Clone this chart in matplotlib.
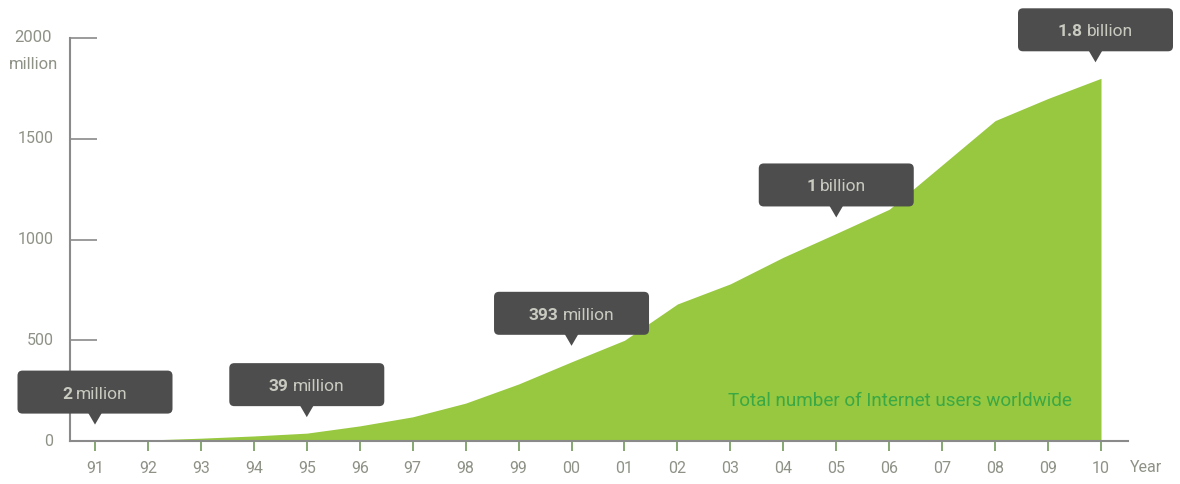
import matplotlib
matplotlib.use("Agg")
import matplotlib.pyplot as plt
from matplotlib import font_manager
from matplotlib.patches import FancyBboxPatch, Polygon
from matplotlib.transforms import ScaledTranslation
from matplotlib.offsetbox import TextArea, HPacker, AnnotationBbox

# ---------------- data ----------------
years = ["91", "92", "93", "94", "95", "96", "97", "98", "99", "00",
         "01", "02", "03", "04", "05", "06", "07", "08", "09", "10"]
users = [2, 5, 14, 25, 39, 75, 120, 188, 283, 393,
         500, 680, 780, 912, 1030, 1150, 1370, 1590, 1700, 1800]
y_ticks = [0, 500, 1000, 1500, 2000]
y_tick_labels = ["0", "500", "1000", "1500", "2000\nmillion"]
callout_years = ["91", "95", "00", "05", "10"]
callout_numbers = ["2", "39", "393", "1", "1.8"]
callout_units = ["million", "million", "million", "billion", "billion"]
caption = "Total number of Internet users worldwide"
x_axis_label = "Year"

# ---------------- fonts ----------------
avail = {f.name for f in font_manager.fontManager.ttflist}
fam = "Roboto" if "Roboto" in avail else "DejaVu Sans"
plt.rcParams["font.family"] = [fam, "DejaVu Sans"]

GREEN = "#97c83f"
GREY = "#8e9286"
AXIS = "#8a8a8a"
BOX = "#4d4d4d"
BOXTXT = "#c9cac0"

W, H = 1180, 484
fig = plt.figure(figsize=(W / 100, H / 100), dpi=100)
ax = fig.add_axes([70 / W, (H - 441) / H, (1128 - 70) / W, (441 - 38) / H])
px_per_idx = (1101 - 95) / 19
xl = (70 - 95) / px_per_idx
xr = 19 + (1128 - 1101) / px_per_idx
ax.set_xlim(xl, xr)
ax.set_ylim(0, 2000)

xs = list(range(len(years)))
ax.fill_between(xs, 0, users, color=GREEN, linewidth=0, zorder=1)

for s in ["top", "right"]:
    ax.spines[s].set_visible(False)
for s in ["left", "bottom"]:
    ax.spines[s].set_color(AXIS)
    ax.spines[s].set_linewidth(1.5)
    ax.spines[s].set_zorder(3)

ax.set_xticks(xs)
ax.set_xticklabels(years)
ax.tick_params(axis="x", direction="out", length=7.5, width=1.2, color="#6f9a5a",
               labelsize=11.5, labelcolor=GREY, pad=7)
ax.set_yticks(y_ticks)
ax.set_yticklabels(y_tick_labels)
ax.tick_params(axis="y", direction="in", length=19.5, width=1.2, color=AXIS,
               labelsize=11.5, labelcolor=GREY, pad=12)
for lab in ax.get_yticklabels():
    lab.set_horizontalalignment("right")
    lab.set_verticalalignment("top")
    lab.set_linespacing(2.0)
    lab.set_transform(lab.get_transform() + ScaledTranslation(0, 0.075, fig.dpi_scale_trans))
lab2000 = ax.get_yticklabels()[-1]
lab2000.set_horizontalalignment("center")
lab2000.set_fontsize(12)
lab2000.set_transform(lab2000.get_transform() + ScaledTranslation(-0.2, 0.01, fig.dpi_scale_trans))

# Year label
ax.annotate(x_axis_label, xy=(19, 0), xycoords="data",
            xytext=(45, -27), textcoords="offset pixels",
            ha="center", va="center", fontsize=11.5, color=GREY, annotation_clip=False)

# caption
ax.text(15.2, 198, caption, ha="center", va="center", fontsize=13.6,
        color="#3aa845", fontweight="normal", zorder=2)

# ---------------- callouts ----------------
bw, bh = 1.55, 0.43  # inches
tip_gap = 0.16
ptr_h = 0.11
ptr_w = 0.07
for yr, num, unit in zip(callout_years, callout_numbers, callout_units):
    i = years.index(yr)
    v = users[i]
    dx = -0.055 if i == len(years) - 1 else 0.0
    tr = fig.dpi_scale_trans + ScaledTranslation(i, v, ax.transData)
    y0 = tip_gap + ptr_h
    box = FancyBboxPatch((dx - bw / 2 + 0.05, y0 + 0.05), bw - 0.1, bh - 0.1,
                         boxstyle="round,pad=0.05", fc=BOX, ec="none",
                         transform=tr, clip_on=False, zorder=5)
    ax.add_patch(box)
    tri = Polygon([(dx - ptr_w, y0 + 0.01), (dx + ptr_w, y0 + 0.01), (dx, tip_gap)],
                  closed=True, fc=BOX, ec="none", transform=tr, clip_on=False, zorder=5)
    ax.add_patch(tri)
    t1 = TextArea(num, textprops=dict(color=BOXTXT, fontsize=12.5, fontweight="bold"))
    t2 = TextArea(unit, textprops=dict(color=BOXTXT, fontsize=12.5))
    pack = HPacker(children=[t1, t2], align="baseline", pad=0, sep=3)
    ab = AnnotationBbox(pack, (i, v), xycoords="data",
                        xybox=((dx) * 100, (y0 + bh / 2) * 100 - 2), boxcoords="offset pixels",
                        frameon=False, box_alignment=(0.5, 0.5), zorder=6,
                        annotation_clip=False)
    ax.add_artist(ab)

fig.savefig("out.png", dpi=100)
